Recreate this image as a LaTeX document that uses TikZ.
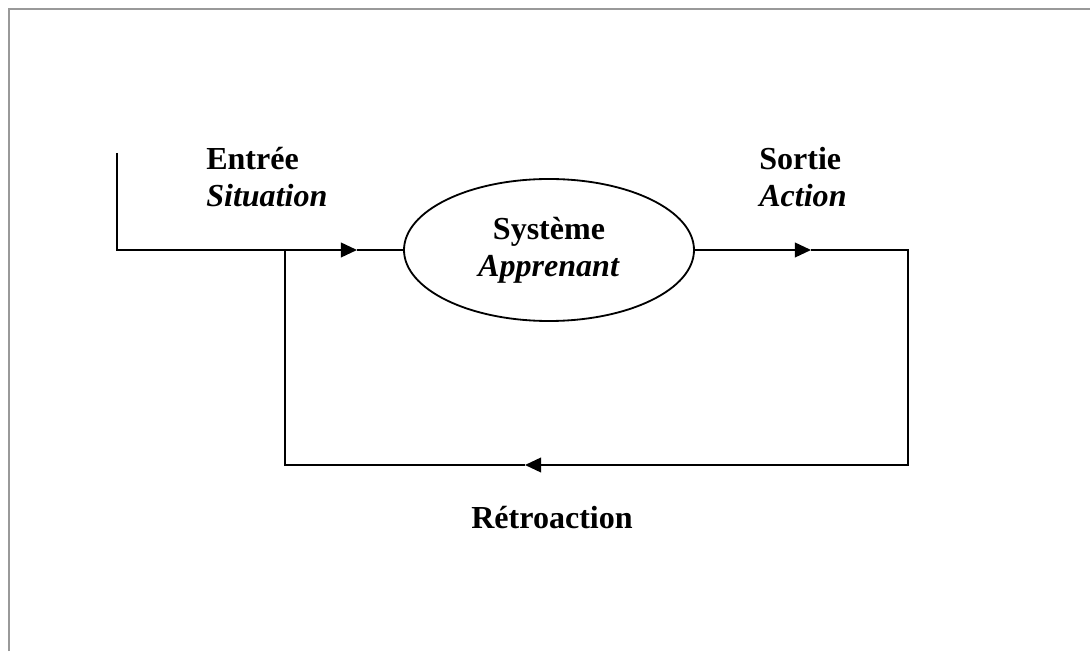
\documentclass[tikz,border=0pt]{standalone}
\usepackage{fontspec}
\setmainfont{Liberation Serif}
\usetikzlibrary{arrows.meta, positioning, shapes.geometric}

\begin{document}
\begin{tikzpicture}[
    every node/.style={font=\fontsize{22.8}{26.3}\selectfont\bfseries, inner sep=0pt},
    flow/.style={line width=1.3pt},
    tip/.style={-{Triangle[length=11.5pt, width=10.5pt]}},
    lbl/.style={anchor=base west}]

    \useasboundingbox (0,0) rectangle (27.25,16.275);
    \draw[color=black!40, line width=1.5pt] (0.225,0) -- (0.225,16.05) -- (27.25,16.05);

    \node[ellipse, draw, flow, minimum width=7.25cm, minimum height=3.55cm,
        align=center] (sys) at (13.725,10.025) {Système\\\textit{Apprenant}};

    \coordinate (in) at (2.925,12.45);
    \coordinate (split) at (7.125,10.025);
    \coordinate (tipin) at (8.925,10.025);
    \coordinate (tipout) at (20.275,10.025);
    \coordinate (back east) at (22.7,4.65);
    \coordinate (tipback) at (13.125,4.65);
    \coordinate (back west) at (7.125,4.65);

    % entree et sortie
    \draw[flow, tip] (in) |- (tipin);
    \draw[flow] (tipin) -- (sys.west);
    \draw[flow, tip] (sys.east) -- (tipout);

    % boucle de retroaction
    \draw[flow, tip] (tipout) -| (back east) -- (tipback);
    \draw[flow] (tipback) -- (back west) -- (split);

    \node[lbl] (entree) at (5.15,12.025) {Entrée};
    \node[lbl] (situation) at (5.15,11.1) {\textit{Situation}};
    \node[lbl] (sortie) at (18.975,12.025) {Sortie};
    \node[lbl] (action) at (18.975,11.1) {\textit{Action}};
    \node[anchor=base] (retro) at (13.8,3.075) {Rétroaction};

\end{tikzpicture}
\end{document}
